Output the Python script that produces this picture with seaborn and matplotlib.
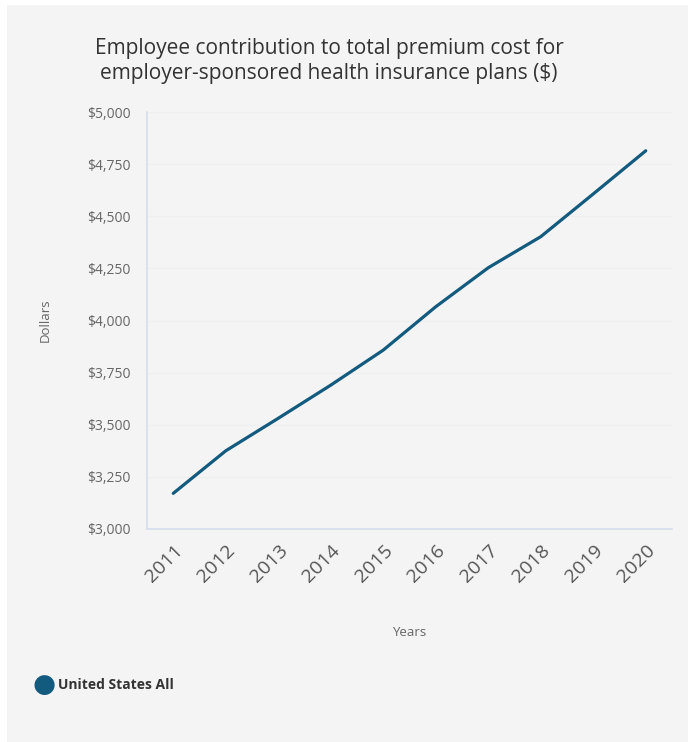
import numpy as np
import pandas as pd
import seaborn as sns
import matplotlib.pyplot as plt
from matplotlib.patches import Rectangle
from matplotlib.ticker import FuncFormatter

# Data
years = [2011, 2012, 2013, 2014, 2015, 2016, 2017, 2018, 2019, 2020]
contribution = [3171, 3375, 3531, 3690, 3858, 4066, 4253, 4402, 4607, 4814]
y_ticks = [3000, 3250, 3500, 3750, 4000, 4250, 4500, 4750, 5000]
series_name = "United States All"

df = pd.DataFrame({"Years": years, "Dollars": contribution})

sns.set_theme(style="white")
plt.rcParams["font.family"] = ["Open Sans", "DejaVu Sans"]

W, H = 688, 742
fig = plt.figure(figsize=(W / 100, H / 100), dpi=100, facecolor="white")

# light grey panel behind everything
fig.patches.append(
    Rectangle((7 / W, 0), 1 - 7 / W, 1 - 5 / H, transform=fig.transFigure,
              facecolor="#f4f4f4", edgecolor="none", zorder=-10)
)

ax = fig.add_axes([147 / W, 213 / H, 525 / W, 417 / H])
ax.set_facecolor("none")

sns.lineplot(data=df, x="Years", y="Dollars", ax=ax, color="#135a7f",
             linewidth=2.3, legend=False)

ax.set_xlim(2010.5, 2020.5)
ax.set_ylim(3000, 5000)
ax.set_yticks(y_ticks)
ax.set_xticks(years)
ax.yaxis.set_major_formatter(FuncFormatter(lambda v, p: f"${v:,.0f}"))
ax.grid(axis="y", color="#efefef", linewidth=0.8)
ax.set_axisbelow(True)

for s in ["top", "right"]:
    ax.spines[s].set_visible(False)
for s in ["left", "bottom"]:
    ax.spines[s].set_color("#d6ddee")
    ax.spines[s].set_linewidth(1.2)

ax.tick_params(axis="y", length=0, pad=12, labelsize=10, labelcolor="#666666")
ax.tick_params(axis="x", length=0, pad=9, labelsize=14, labelcolor="#555555")
for lab in ax.get_xticklabels():
    lab.set_rotation(45)
    lab.set_ha("right")
    lab.set_rotation_mode("anchor")

ax.set_xlabel("")
ax.set_ylabel("")
fig.text(45 / W, 1 - 320 / H, "Dollars", rotation=90, ha="center", va="center",
         fontsize=9.5, color="#666666")
fig.text(409 / W, 1 - 632 / H, "Years", ha="center", va="center",
         fontsize=9.5, color="#666666")

fig.text(329 / W, 1 - 61 / H,
         "Employee contribution to total premium cost for\n"
         "employer-sponsored health insurance plans ($)",
         ha="center", va="center", fontsize=15, color="#333333",
         linespacing=1.2)

# legend marker and label
fig.text(44 / W, 1 - 685 / H, "\u25cf", ha="center", va="center",
         fontsize=19, color="#135a7f", family=["DejaVu Sans"])
fig.text(58 / W, 1 - 685 / H, series_name, ha="left", va="center",
         fontsize=10, fontweight="bold", color="#333333")

fig.savefig("out.png", dpi=100, facecolor="white")
